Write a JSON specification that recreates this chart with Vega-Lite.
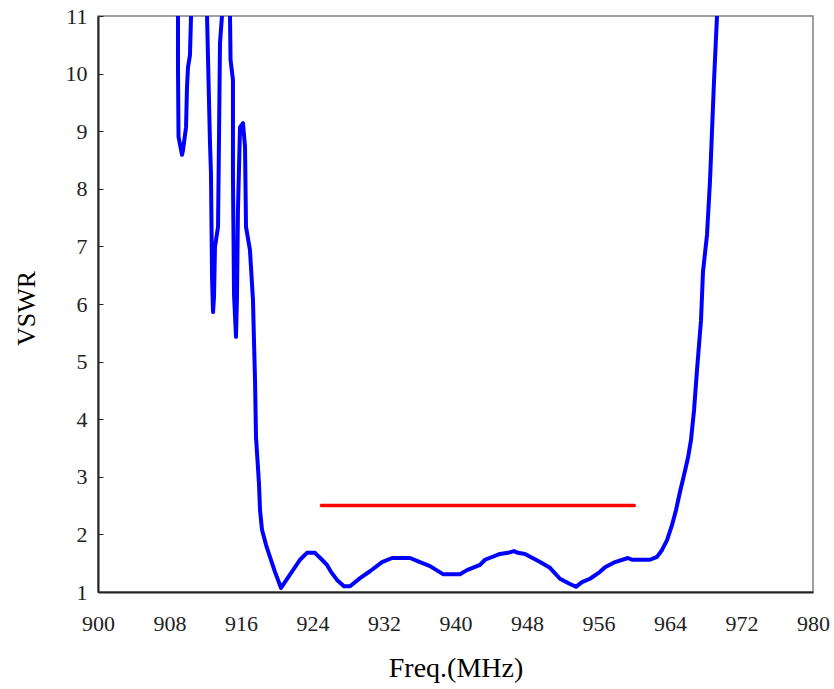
{
  "$schema": "https://vega.github.io/schema/vega-lite/v6.json",
  "width": 715,
  "height": 576,
  "autosize": "none",
  "padding": {"left": 98, "top": 16, "right": 21, "bottom": 97},
  "background": "white",
  "config": {
    "view": {"stroke": "#808080", "strokeWidth": 1.5},
    "font": "Liberation Serif"
  },
  "datasets": {
    "vswr": [
      {"i": 0, "f": 908.95, "v": 12},
      {"i": 1, "f": 908.95, "v": 10.11},
      {"i": 2, "f": 909.01, "v": 8.9},
      {"i": 3, "f": 909.4, "v": 8.59},
      {"i": 4, "f": 909.51, "v": 8.67},
      {"i": 5, "f": 909.85, "v": 9.07},
      {"i": 6, "f": 909.96, "v": 9.77},
      {"i": 7, "f": 910.07, "v": 10.11},
      {"i": 8, "f": 910.29, "v": 10.32},
      {"i": 9, "f": 910.41, "v": 11.0},
      {"i": 10, "f": 910.45, "v": 12},
      {"i": 11, "f": 912.16, "v": 12},
      {"i": 12, "f": 912.2, "v": 11},
      {"i": 13, "f": 912.53, "v": 8.8},
      {"i": 14, "f": 912.64, "v": 8.27},
      {"i": 15, "f": 912.76, "v": 6.47},
      {"i": 16, "f": 912.87, "v": 5.86},
      {"i": 17, "f": 912.98, "v": 6.12},
      {"i": 18, "f": 913.09, "v": 6.99},
      {"i": 19, "f": 913.43, "v": 7.34},
      {"i": 20, "f": 913.54, "v": 8.9},
      {"i": 21, "f": 913.65, "v": 10.53},
      {"i": 22, "f": 913.87, "v": 11},
      {"i": 23, "f": 913.9, "v": 12},
      {"i": 24, "f": 914.77, "v": 12},
      {"i": 25, "f": 914.77, "v": 11},
      {"i": 26, "f": 914.83, "v": 10.24},
      {"i": 27, "f": 915.1, "v": 9.89},
      {"i": 28, "f": 915.1, "v": 8.2},
      {"i": 29, "f": 915.22, "v": 6.16},
      {"i": 30, "f": 915.44, "v": 5.43},
      {"i": 31, "f": 915.55, "v": 6.12},
      {"i": 32, "f": 915.66, "v": 7.63},
      {"i": 33, "f": 915.89, "v": 9.07},
      {"i": 34, "f": 916.22, "v": 9.14},
      {"i": 35, "f": 916.45, "v": 8.73},
      {"i": 36, "f": 916.56, "v": 7.34},
      {"i": 37, "f": 917.0, "v": 6.94},
      {"i": 38, "f": 917.34, "v": 6.07},
      {"i": 39, "f": 917.45, "v": 5.38},
      {"i": 40, "f": 917.57, "v": 4.68},
      {"i": 41, "f": 917.68, "v": 3.69},
      {"i": 42, "f": 918.01, "v": 2.89},
      {"i": 43, "f": 918.13, "v": 2.42},
      {"i": 44, "f": 918.35, "v": 2.08},
      {"i": 45, "f": 918.8, "v": 1.82},
      {"i": 46, "f": 919.24, "v": 1.61},
      {"i": 47, "f": 919.8, "v": 1.35},
      {"i": 48, "f": 920.48, "v": 1.07},
      {"i": 49, "f": 921.48, "v": 1.3},
      {"i": 50, "f": 922.6, "v": 1.56},
      {"i": 51, "f": 923.38, "v": 1.68},
      {"i": 52, "f": 924.28, "v": 1.68},
      {"i": 53, "f": 925.06, "v": 1.56},
      {"i": 54, "f": 925.62, "v": 1.47},
      {"i": 55, "f": 926.07, "v": 1.35},
      {"i": 56, "f": 926.74, "v": 1.21},
      {"i": 57, "f": 927.52, "v": 1.1},
      {"i": 58, "f": 928.2, "v": 1.1},
      {"i": 59, "f": 929.32, "v": 1.24},
      {"i": 60, "f": 930.43, "v": 1.36},
      {"i": 61, "f": 931.78, "v": 1.52},
      {"i": 62, "f": 932.9, "v": 1.59},
      {"i": 63, "f": 934.91, "v": 1.59},
      {"i": 64, "f": 936.03, "v": 1.52},
      {"i": 65, "f": 937.15, "v": 1.45},
      {"i": 66, "f": 938.6, "v": 1.31},
      {"i": 67, "f": 940.5, "v": 1.31},
      {"i": 68, "f": 941.29, "v": 1.38},
      {"i": 69, "f": 942.74, "v": 1.47},
      {"i": 70, "f": 943.3, "v": 1.56},
      {"i": 71, "f": 944.98, "v": 1.66},
      {"i": 72, "f": 945.87, "v": 1.68},
      {"i": 73, "f": 946.55, "v": 1.71},
      {"i": 74, "f": 946.99, "v": 1.68},
      {"i": 75, "f": 947.78, "v": 1.66},
      {"i": 76, "f": 949.46, "v": 1.52},
      {"i": 77, "f": 950.57, "v": 1.42},
      {"i": 78, "f": 951.69, "v": 1.23},
      {"i": 79, "f": 952.81, "v": 1.14},
      {"i": 80, "f": 953.48, "v": 1.09},
      {"i": 81, "f": 954.15, "v": 1.17},
      {"i": 82, "f": 955.05, "v": 1.23},
      {"i": 83, "f": 956.17, "v": 1.35},
      {"i": 84, "f": 956.73, "v": 1.43},
      {"i": 85, "f": 957.85, "v": 1.52},
      {"i": 86, "f": 959.3, "v": 1.59},
      {"i": 87, "f": 959.75, "v": 1.56},
      {"i": 88, "f": 961.76, "v": 1.56},
      {"i": 89, "f": 962.55, "v": 1.61},
      {"i": 90, "f": 963.11, "v": 1.73},
      {"i": 91, "f": 963.67, "v": 1.9},
      {"i": 92, "f": 964.22, "v": 2.16},
      {"i": 93, "f": 964.67, "v": 2.42},
      {"i": 94, "f": 965.12, "v": 2.74},
      {"i": 95, "f": 965.57, "v": 3.03},
      {"i": 96, "f": 966.01, "v": 3.33},
      {"i": 97, "f": 966.35, "v": 3.64},
      {"i": 98, "f": 966.69, "v": 4.16},
      {"i": 99, "f": 967.02, "v": 4.85},
      {"i": 100, "f": 967.47, "v": 5.72},
      {"i": 101, "f": 967.69, "v": 6.56},
      {"i": 102, "f": 968.14, "v": 7.2},
      {"i": 103, "f": 968.48, "v": 8.15},
      {"i": 104, "f": 968.93, "v": 9.89},
      {"i": 105, "f": 969.26, "v": 11.0},
      {"i": 106, "f": 969.4, "v": 12}
    ],
    "limit": [
      {"f": 925, "v": 2.5},
      {"f": 960, "v": 2.5}
    ]
  },
  "encoding": {
    "x": {
      "field": "f",
      "type": "quantitative",
      "scale": {"domain": [900, 980], "nice": false, "zero": false},
      "axis": {
        "title": "Freq.(MHz)",
        "values": [900, 908, 916, 924, 932, 940, 948, 956, 964, 972, 980],
        "grid": false,
        "ticks": false,
        "domainColor": "#222222",
        "domainWidth": 2,
        "labelFont": "Liberation Serif",
        "labelFontSize": 22,
        "labelColor": "#222222",
        "labelPadding": 21,
        "labelFlush": false,
        "titleFont": "Liberation Serif",
        "titleFontSize": 28,
        "titleFontWeight": "normal",
        "titleColor": "#000000",
        "titleY": 76,
        "titleBaseline": "middle"
      }
    },
    "y": {
      "field": "v",
      "type": "quantitative",
      "scale": {"domain": [1, 11], "nice": false, "zero": false},
      "axis": {
        "title": "VSWR",
        "values": [1, 2, 3, 4, 5, 6, 7, 8, 9, 10, 11],
        "grid": false,
        "ticks": true,
        "tickSize": -5,
        "tickColor": "#222222",
        "tickWidth": 1,
        "domainColor": "#222222",
        "domainWidth": 2,
        "labelFont": "Liberation Serif",
        "labelFontSize": 22,
        "labelColor": "#222222",
        "labelPadding": 16,
        "labelFlush": false,
        "titleFont": "Liberation Serif",
        "titleFontSize": 26,
        "titleFontWeight": "normal",
        "titleColor": "#000000",
        "titleX": -72,
        "titleY": 292,
        "titleAngle": -90,
        "titleBaseline": "middle",
        "titleAlign": "center"
      }
    }
  },
  "layer": [
    {
      "data": {"name": "vswr"},
      "mark": {"type": "line", "color": "#0000FF", "strokeWidth": 4, "clip": true, "strokeJoin": "round", "strokeCap": "round"},
      "encoding": {
        "order": {"field": "i", "type": "quantitative"}
      }
    },
    {
      "data": {"name": "limit"},
      "mark": {"type": "line", "color": "#FF0000", "strokeWidth": 3.5, "strokeCap": "round"},
      "encoding": {}
    }
  ]
}
